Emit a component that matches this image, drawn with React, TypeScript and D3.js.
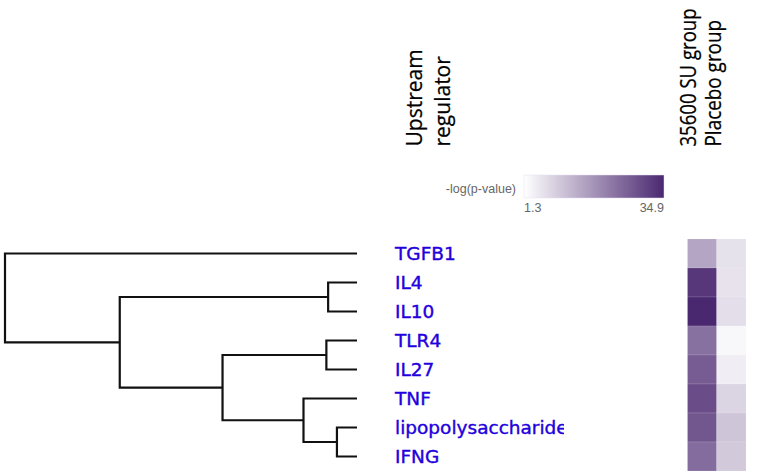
import React from "react";
import * as d3 from "d3";

const regulators = ["TGFB1", "IL4", "IL10", "TLR4", "IL27", "TNF", "lipopolysaccharide", "IFNG"];
const groups = ["35600 SU group", "Placebo group"];
const suValues = [15.4, 32.5, 34.9, 23.5, 26.7, 29.2, 27.5, 24.1];
const placeboValues = [5.9, 5.8, 6.5, 2.6, 4.0, 8.0, 10.3, 9.7];
const legendTicks = [1.3, 34.9];
// linkage: [left, right, height]; new node ids start at regulators.length
const merges: [number, number, number][] = [
  [6, 7, 0.057],
  [1, 2, 0.082],
  [3, 4, 0.087],
  [5, 8, 0.152],
  [10, 11, 0.382],
  [9, 12, 0.674],
  [0, 13, 1.0],
];

const W = 757, H = 474;

export default function App() {
  const y = d3.scaleBand<string>().domain(regulators).range([239, 471]);
  const xDen = d3.scaleLinear().domain([0, 1]).range([357, 5]);
  const xCol = d3.scaleBand<string>().domain(groups).range([687.5, 746]);
  const color = d3
    .scaleLinear<string>()
    .domain([legendTicks[0], legendTicks[1]])
    .range(["#ffffff", "#4a2870"])
    .interpolate(d3.interpolateRgb)
    .clamp(true);

  // dendrogram node positions
  const nodeY: number[] = regulators.map((r) => (y(r) as number) + y.bandwidth() / 2);
  const nodeH: number[] = regulators.map(() => 0);
  const segs: string[] = [];
  merges.forEach(([a, b, h]) => {
    const ya = nodeY[a], yb = nodeY[b];
    const xh = xDen(h);
    const p = d3.path();
    p.moveTo(xDen(nodeH[a]), ya);
    p.lineTo(xh, ya);
    p.lineTo(xh, yb);
    p.lineTo(xDen(nodeH[b]), yb);
    segs.push(p.toString());
    nodeY.push((ya + yb) / 2);
    nodeH.push(h);
  });

  const cols = [suValues, placeboValues];
  const gridFont = "'Open Sans', sans-serif";

  return (
    <svg width={W} height={H} style={{ position: "absolute", left: 0, top: 0 }}>
      <defs>
        <linearGradient id="lg" x1="0" x2="1" y1="0" y2="0">
          <stop offset="0%" stopColor={color(legendTicks[0])} />
          <stop offset="100%" stopColor={color(legendTicks[1])} />
        </linearGradient>
        <clipPath id="lblclip">
          <rect x={380} y={230} width={184} height={244} />
        </clipPath>
      </defs>
      <rect width={W} height={H} fill="#fff" />

      {/* headers */}
      <g fontFamily={gridFont} fontSize={21} fill="#000" stroke="#000" strokeWidth={0.25}>
        <text transform="translate(421.5,146.5) rotate(-90)">Upstream</text>
        <text transform="translate(450,146.5) rotate(-90)">regulator</text>
        <text transform="translate(695.5,146.5) rotate(-90) scale(0.885,1)">{groups[0]}</text>
        <text transform="translate(721,146.5) rotate(-90) scale(0.9,1)">{groups[1]}</text>
      </g>

      {/* legend */}
      <g fontFamily="'Liberation Sans', Arial, sans-serif" fontSize={12.5} fill="#666">
        <text x={516} y={193} textAnchor="end">-log(p-value)</text>
        <rect x={524} y={175} width={140} height={23} fill="url(#lg)" stroke="#e4def0" strokeWidth={0.5} />
        <text x={524} y={212} textAnchor="start">{legendTicks[0]}</text>
        <text x={664} y={212} textAnchor="end">{legendTicks[1]}</text>
      </g>

      {/* dendrogram */}
      <g fill="none" stroke="#111" strokeWidth={2.2}>
        {segs.map((d, i) => (
          <path key={i} d={d} />
        ))}
      </g>

      {/* labels */}
      <g
        clipPath="url(#lblclip)"
        fontFamily="'DejaVu Sans', Verdana, sans-serif"
        fontSize={18.5}
        fill="#2200dd"
        stroke="#2200dd"
        strokeWidth={0.4}
      >
        {regulators.map((r) => (
          <text key={r} x={395} y={(y(r) as number) + y.bandwidth() / 2 + 6.6}>
            {r}
          </text>
        ))}
      </g>

      {/* heatmap */}
      <g>
        {groups.map((g, gi) =>
          regulators.map((r, ri) => (
            <rect
              key={g + r}
              x={xCol(g)}
              y={y(r)}
              width={xCol.bandwidth()}
              height={y.bandwidth()}
              fill={color(cols[gi][ri])}
              stroke="#ffffff"
              strokeOpacity={0.25}
              strokeWidth={0.5}
            />
          ))
        )}
      </g>
    </svg>
  );
}
